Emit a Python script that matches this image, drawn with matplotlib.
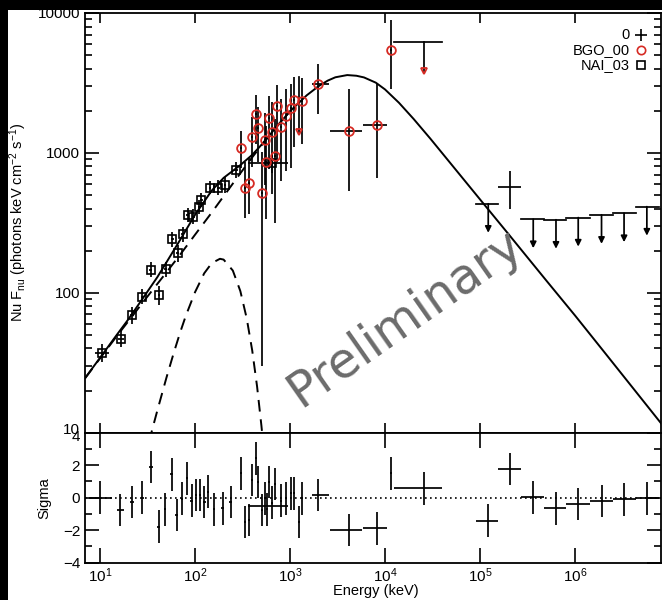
import matplotlib
matplotlib.use("Agg")
import matplotlib.pyplot as plt
from matplotlib.patches import Rectangle
from matplotlib.lines import Line2D
from matplotlib.ticker import NullLocator
from matplotlib.transforms import ScaledTranslation

plt.rcParams['font.family'] = ['Liberation Sans', 'DejaVu Sans']
plt.rcParams['mathtext.fontset'] = 'custom'
plt.rcParams['mathtext.rm'] = 'Liberation Sans'
plt.rcParams['mathtext.it'] = 'Liberation Sans:italic'

# ---------------- spectrum data (keV, nuFnu) ----------------
# NaI detector
nai_e = [10.5, 16.6, 21.7, 27.9, 34.1, 41.8, 49.1, 57.7, 65.7, 74.1, 83.7, 95.9, 110, 117, 144, 176, 207, 270, 640]
nai_v = [37, 47, 69, 94, 146, 96, 147, 242, 192, 262, 361, 351, 413, 461, 565, 565, 590, 756, 843]
nai_elo = [1.7, 1.2, 1.0, 1.0, 1.2, 1.3, 1.5, 1.7, 2.0, 2.2, 2.4, 2.8, 3.0, 3.2, 4, 5, 6, 10, 280]
nai_ehi = [2.0, 1.4, 1.1, 1.1, 1.3, 1.4, 1.6, 1.8, 2.1, 2.3, 2.6, 3.0, 3.2, 3.5, 4, 5, 6, 12, 310]
nai_vlo = [5, 6, 9, 11, 17, 14, 17, 28, 25, 30, 40, 42, 45, 52, 60, 62, 70, 90, 120]
nai_vhi = [6, 7, 10, 12, 19, 16, 19, 30, 28, 33, 44, 46, 50, 58, 66, 70, 80, 100, 140]

# BGO detector
bgo_e = [302, 336, 367, 401, 435, 464, 503, 545, 555, 596, 640, 695, 723, 804, 907, 1017, 1110, 1337, 1987, 4208, 8300, 11460]
bgo_v = [1081, 560, 608, 1294, 1900, 1517, 520, 1240, 859, 1770, 1405, 957, 2167, 1525, 1844, 2083, 2393, 2351, 3098, 1442, 1585, 5445]
bgo_elo = [8, 8, 9, 10, 10, 11, 12, 13, 13, 14, 15, 16, 17, 19, 21, 24, 26, 31, 300, 1560, 2420, 300]
bgo_ehi = [8, 8, 9, 10, 10, 11, 12, 13, 13, 14, 15, 16, 17, 19, 21, 24, 26, 31, 600, 1560, 2230, 300]
bgo_vlo = [300, 220, 240, 500, 750, 650, 490, 650, 520, 1000, 900, 640, 1300, 900, 1100, 1300, 1300, 1200, 1200, 910, 920, 2600]
bgo_vhi = [350, 300, 320, 500, 700, 600, 500, 700, 700, 800, 900, 800, 900, 900, 1000, 1000, 1100, 1100, 1200, 1400, 1500, 3500]

# BGO upper limits (energy, bin edges, limit, arrow tip)
bgo_ul_e = [1230, 25900]
bgo_ul_elo = [1230, 12300]
bgo_ul_ehi = [1230, 40000]
bgo_ul_v = [3490, 6170]
bgo_ul_tip = [1420, 3853]

# LAT bins
lat_e = [207000]
lat_elo = [156000]
lat_ehi = [268000]
lat_v = [574]
lat_vlo = [396]
lat_vhi = [748]
lat_ul_e = [122000, 363000, 630000, 1080000, 1900000, 3280000, 5700000]
lat_ul_elo = [90800, 268000, 468000, 810000, 1430000, 2520000, 4400000]
lat_ul_ehi = [156000, 468000, 810000, 1430000, 2520000, 4400000, 7600000]
lat_ul_v = [433, 336, 333, 345, 361, 371, 413]

# ---------------- fitted model (keV, nuFnu) ----------------
model_e = [7, 10, 15, 20, 30, 40, 50, 70, 100, 150, 200, 300, 400, 500, 700, 1000, 1500, 2000,
           2500, 3000, 4000, 5000, 6000, 8000, 10000, 14000, 20000, 30000, 50000, 1e5, 2e5, 5e5,
           1e6, 2e6, 5e6, 8.1e6]
model_total = [24.7, 34.3, 50, 65, 97, 129, 165, 240, 361, 538, 663, 818, 969, 1141, 1500, 1986,
               2581, 3001, 3289, 3471, 3600, 3560, 3464, 3177, 2842, 2284, 1748, 1264, 827, 465, 262,
               122, 68.8, 38.2, 17.5, 11.6]
band_e = [7, 10, 15, 20, 30, 50, 70, 100, 150, 200, 300, 400, 500, 700, 1000]
band_v = [24.6, 34, 49, 63, 90, 140, 188, 260, 375, 490, 715, 930, 1130, 1500, 1986]
bb_e = [33, 35, 40, 50, 60, 70, 80, 100, 125, 150, 183, 200, 250, 300, 350, 400, 450, 500, 530]
bb_v = [8.6, 10.2, 14.3, 24.7, 37.6, 52.5, 68.5, 101, 137.9, 163, 175, 172.7, 144.2, 102.8, 65.7, 38.7,
        21.4, 11.2, 7.5]

# ---------------- residuals (sigma) ----------------
res_e = [10, 16.3, 21.5, 27.9, 34.4, 41.3, 48.3, 56.7, 64.1, 73.0, 82.0, 91.9, 103, 114, 125, 138, 158,
         195, 237, 302, 336, 367, 401, 435, 464, 503, 545, 573, 596, 640, 695, 804, 907, 1017, 1110, 1230,
         1337, 1987, 4208, 8300, 11460, 25900, 122000, 207000, 363000, 630000, 1080000, 1900000,
         3280000, 5700000]
res_s = [0.0, -0.76, -0.25, 0.0, 1.9, -1.78, -0.72, 1.44, -1.06, -0.05, 1.19, -0.18, 0.17, 0.17, -0.25,
         0.37, -0.72, -0.65, -0.25, 1.5, -1.48, -1.37, 1.09, 2.42, 0.98, -0.76, -0.04, -0.72, 0.98, -0.31,
         0.84, -0.18, -0.04, 0.27, 0.27, -1.48, -0.04, 0.17, -1.99, -1.88, 1.5, 0.58, -1.41, 1.77, 0.02,
         -0.65, -0.39, -0.2, -0.1, -0.04]
res_elo = [2.3, 1.3, 1.0, 1.0, 1.3, 1.4, 1.6, 1.8, 2.0, 2.2, 2.4, 2.8, 3, 3, 4, 4, 5, 8, 10, 8, 8, 9, 10,
           10, 11, 12, 13, 13, 14, 15, 16, 19, 21, 24, 26, 31, 31, 300, 1560, 2420, 300, 13600, 31200,
           51000, 95000, 162000, 270000, 470000, 760000, 1300000]
res_ehi = [3.5, 1.4, 1.1, 1.1, 1.3, 1.4, 1.6, 1.8, 2.1, 2.3, 2.6, 3.0, 3, 3, 4, 4, 5, 8, 10, 8, 8, 9, 10,
           10, 11, 12, 13, 13, 14, 15, 16, 19, 21, 24, 26, 31, 31, 600, 1560, 2230, 300, 14100, 34000,
           61000, 105000, 180000, 350000, 620000, 1120000, 1900000]
res_big_e = [543]
res_big_s = [-0.5]
res_big_elo = [183]
res_big_ehi = [407]

# ---------------- figure ----------------
W, H = 662, 600
fig = plt.figure(figsize=(W / 100, H / 100), dpi=100)
fig.patch.set_facecolor('black')
fig.patches.append(Rectangle((8 / W, 0), 1 - 8 / W, 1 - 10 / H, transform=fig.transFigure,
                             facecolor='white', edgecolor='none', zorder=-10))

x0, x1 = 85 / W, 661 / W
ytop, ymid, ybot = 1 - 13 / H, 1 - 432.7 / H, 1 - 562.7 / H
ax1 = fig.add_axes([x0, ymid, x1 - x0, ytop - ymid])
ax2 = fig.add_axes([x0, ybot, x1 - x0, ymid - ybot], sharex=ax1)

red = '#d62a23'
lw = 1.25
xlim = (6.95, 8.03e6)

# model curves
ax1.plot(model_e, model_total, color='black', lw=1.4, zorder=3)
ax1.plot(band_e, band_v, color='black', lw=1.4, ls=(0, (6, 4)), zorder=3)
ax1.plot(bb_e, bb_v, color='black', lw=1.4, ls=(0, (6, 4)), zorder=3)

# NaI points
ax1.errorbar(nai_e, nai_v, xerr=[nai_elo, nai_ehi], yerr=[nai_vlo, nai_vhi], fmt='none',
             ecolor='black', elinewidth=lw, capsize=0, zorder=4)
ax1.plot(nai_e, nai_v, ls='none', marker='s', ms=6.3, mfc='none', mec='black', mew=1.2, zorder=5)

# BGO points
ax1.errorbar(bgo_e, bgo_v, xerr=[bgo_elo, bgo_ehi], yerr=[bgo_vlo, bgo_vhi], fmt='none',
             ecolor='black', elinewidth=lw, capsize=0, zorder=4)
ax1.plot(bgo_e, bgo_v, ls='none', marker='o', ms=6.3, mfc='none', mec=red, mew=1.3, zorder=5)
for e, elo, ehi, v, tip in zip(bgo_ul_e, bgo_ul_elo, bgo_ul_ehi, bgo_ul_v, bgo_ul_tip):
    ax1.plot([elo, ehi], [v, v], color='black', lw=lw, zorder=4)
    ax1.plot([e, e], [v, tip], color='black', lw=lw, zorder=4)
    ax1.plot([e], [tip], ls='none', marker='v', ms=5, mfc='none', mec=red, mew=1.3, zorder=5)

# LAT points and upper limits
ax1.errorbar(lat_e, lat_v, xerr=[[lat_e[0] - lat_elo[0]], [lat_ehi[0] - lat_e[0]]],
             yerr=[[lat_v[0] - lat_vlo[0]], [lat_vhi[0] - lat_v[0]]], fmt='none',
             ecolor='black', elinewidth=lw, capsize=0, zorder=4)
for e, elo, ehi, v in zip(lat_ul_e, lat_ul_elo, lat_ul_ehi, lat_ul_v):
    ax1.plot([elo, ehi], [v, v], color='black', lw=lw, zorder=4)
    ax1.annotate('', xy=(e, v * 0.62), xytext=(e, v),
                 arrowprops=dict(arrowstyle='-|>', color='black', lw=lw,
                                 mutation_scale=9, shrinkA=0, shrinkB=0), zorder=4)

ax1.set_xscale('log')
ax1.set_yscale('log')
ax1.set_xlim(*xlim)
ax1.set_ylim(10, 10000)
ax1.set_yticks([10, 100, 1000, 10000])
ax1.set_yticklabels(['10', '100', '1000', '10000'])
ax1.set_ylabel(r'Nu F$_{\rm nu}$ (photons keV cm$^{-2}$ s$^{-1}$)', fontsize=10.5, labelpad=6)

# residual panel
ax2.errorbar(res_e, res_s, xerr=[res_elo, res_ehi], yerr=1.0, fmt='none', ecolor='black',
             elinewidth=lw, capsize=0)
ax2.errorbar(res_big_e, res_big_s, xerr=[res_big_elo, res_big_ehi], fmt='none', ecolor='black',
             elinewidth=lw, capsize=0)
ax2.axhline(0, color='black', lw=1.2, ls=(0, (1, 2)))
ax2.set_ylim(-4, 4)
ax2.set_yticks([-4, -2, 0, 2, 4])
ax2.set_yticklabels(['\u22124', '\u22122', '0', '2', '4'])
ax2.set_yticks([-3, -1, 1, 3], minor=True)
ax2.set_ylabel('Sigma', fontsize=10.5, labelpad=8)
ax2.set_xticks([10, 100, 1e3, 1e4, 1e5, 1e6])

for ax in (ax1, ax2):
    for s in ax.spines.values():
        s.set_linewidth(1.3)
    ax.tick_params(which='both', direction='in', top=True, right=True, labelsize=11, width=1.2)
    ax.tick_params(axis='y', which='major', length=10)
    ax.tick_params(axis='y', which='minor', length=5)
    ax.xaxis.set_minor_locator(NullLocator())
ax1.tick_params(axis='x', which='major', length=7, labelbottom=False)
ax2.tick_params(axis='x', which='major', length=11, pad=3)

# the "10" of the top panel and the "4" of the residual panel share the panel seam
fig.canvas.draw()
ax1.get_yticklabels()[0].set_transform(
    ax1.get_yticklabels()[0].get_transform() + ScaledTranslation(0, 4 / 100, fig.dpi_scale_trans))
ax2.get_yticklabels()[-1].set_transform(
    ax2.get_yticklabels()[-1].get_transform() + ScaledTranslation(0, -3 / 100, fig.dpi_scale_trans))

fig.text(376 / W, 1 - 591 / H, 'Energy (keV)', ha='center', va='center', fontsize=10.5)

# legend
legend_rows = [('0', '+', 'black', 9), ('BGO_00', 'o', red, 6), ('NAI_03', 's', 'black', 6)]
for i, (name, mk, col, size) in enumerate(legend_rows):
    ypx = 35 + i * 15
    fig.text(630 / W, 1 - ypx / H, name, ha='right', va='center', fontsize=10.5)
    fig.lines.append(Line2D([641 / W], [1 - ypx / H], transform=fig.transFigure,
                            marker=mk, ms=size, mfc='none', mec=col, mew=1.2, ls='none'))

fig.text(405 / W, 1 - 318 / H, 'Preliminary', rotation=35, fontsize=35, color='#6b6b6b',
         ha='center', va='center', family=['DejaVu Sans'])

fig.savefig('out.png', dpi=100, facecolor=fig.get_facecolor())
